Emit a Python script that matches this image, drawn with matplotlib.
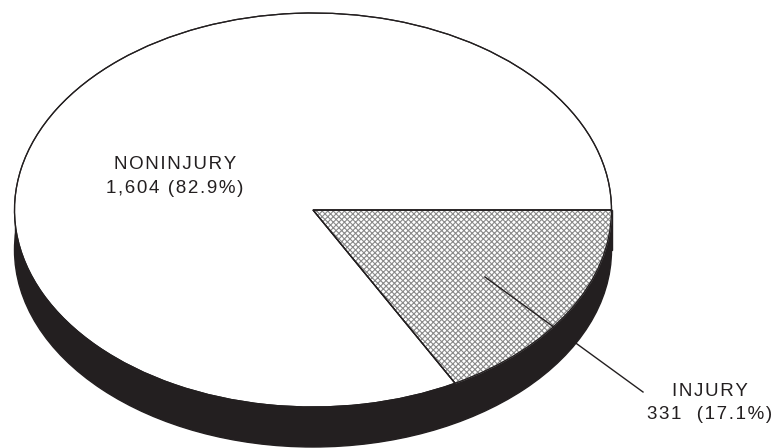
import matplotlib
matplotlib.use("Agg")
import matplotlib.pyplot as plt
from matplotlib.patches import Ellipse, Rectangle

categories = ["INJURY", "NONINJURY"]
counts = [331, 1604]
percents = ["17.1", "82.9"]

W, H = 776, 448
depth = 40 / 197  # side wall height, in radii
INK = "#231f20"

plt.rcParams['font.family'] = ['Liberation Sans', 'DejaVu Sans']
plt.rcParams['hatch.linewidth'] = 0.8


def track(s):
    # the labels are letterspaced in the original
    return "\u200a".join(s)


fig = plt.figure(figsize=(W / 100, H / 100), dpi=100, facecolor="white")
# axes runs over the top face of the pie, so a radius of 1 is the ellipse
ax = fig.add_axes([14.5 / W, (H - 407) / H, 597 / W, 394 / H])

# side wall first, the top face covers most of it
ax.add_patch(Ellipse((0, -depth), 2, 2, facecolor=INK, edgecolor=INK, clip_on=False, zorder=1))
ax.add_patch(Rectangle((-1, -depth), 2, depth, facecolor=INK, edgecolor=INK, clip_on=False, zorder=1))

wedges, _ = ax.pie(counts, startangle=0, counterclock=False, radius=1,
                   colors=["white", "white"],
                   wedgeprops=dict(edgecolor=INK, linewidth=0.9, zorder=2, clip_on=False))
wedges[0].set_hatch("xxxxxx")
wedges[0].set_edgecolor("#8a8a8a")
# outline of the wedge stays dark, the hatch colour is only for the fill
ax.pie(counts, startangle=0, counterclock=False, radius=1, colors=["none", "none"],
       wedgeprops=dict(edgecolor=INK, linewidth=0.9, zorder=3, clip_on=False))

# pie forces equal aspect, the picture is squashed
ax.set_aspect("auto")
ax.set_xlim(-1, 1)
ax.set_ylim(-1, 1)
ax.axis("off")

# leader line, passes through the black wall
fig.add_artist(plt.Line2D([485 / W, 643 / W], [1 - 277 / H, 1 - 392 / H], color=INK, linewidth=1.0, zorder=5))

fig.text(175 / W, 1 - 164 / H, track(categories[1]), fontsize=13.5, ha="center", va="center", color=INK)
fig.text(175 / W, 1 - 188 / H, track(f"{counts[1]:,} ({percents[1]}%)"), fontsize=13.5, ha="center", va="center", color=INK)
fig.text(710 / W, 1 - 391 / H, track(categories[0]), fontsize=13.5, ha="center", va="center", color=INK)
fig.text(710 / W, 1 - 414 / H, track(f"{counts[0]}  ({percents[0]}%)"), fontsize=13.5, ha="center", va="center", color=INK)

fig.savefig("out.png", dpi=100, facecolor="white")
